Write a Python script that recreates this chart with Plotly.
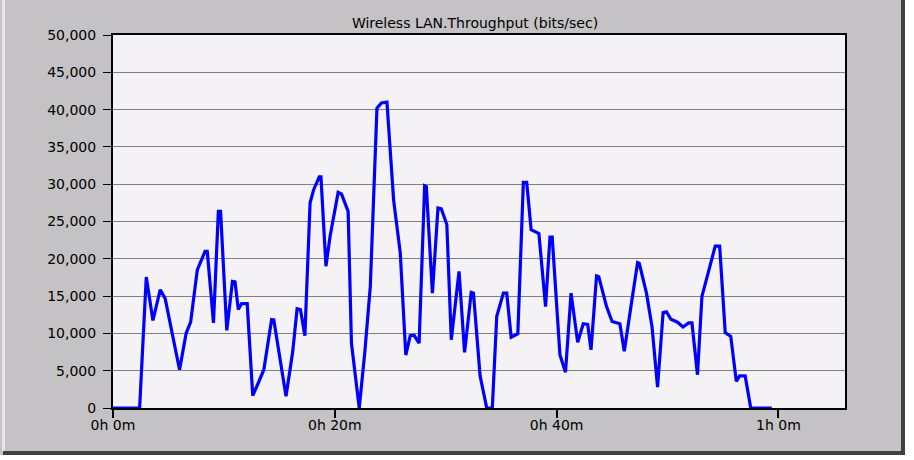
import plotly.graph_objects as go

# time in minutes since start
minutes = [0, 2.4, 3.0, 3.6, 4.26, 4.7, 6.0, 6.6, 7.0, 7.6, 8.3, 8.5, 9.06, 9.5, 9.7,
           10.26, 10.77, 11.0, 11.3, 11.6, 12.1, 12.6, 13.1, 13.6, 14.3, 14.5, 15.6,
           16.2, 16.6, 16.9, 17.3, 17.77, 18.1, 18.6, 18.75, 19.2, 19.57, 20.3, 20.6,
           21.2, 21.5, 22.2, 22.7, 23.2, 23.8, 24.2, 24.7, 25.3, 25.9, 26.4, 26.8,
           27.15, 27.6, 28.1, 28.25, 28.8, 29.3, 29.6, 30.1, 30.5, 31.2, 31.7, 32.3,
           32.5, 33.1, 33.7, 34.2, 34.6, 35.2, 35.5, 35.9, 36.5, 37.0, 37.3, 37.7,
           38.4, 39.0, 39.4, 39.6, 40.3, 40.8, 41.3, 41.9, 42.4, 42.8, 43.1, 43.6,
           43.8, 44.5, 45.0, 45.7, 46.1, 46.7, 47.3, 47.45, 48.1, 48.6, 49.1, 49.6,
           49.9, 50.3, 50.9, 51.4, 51.9, 52.2, 52.7, 53.1, 53.6, 54.3, 54.7, 55.2,
           55.7, 56.2, 56.5, 57.0, 57.5, 59.4]

throughput = [0, 0, 17560, 11740, 15860, 14700, 5130, 10050, 11500, 18500, 21000,
              21000, 11400, 26350, 26350, 10400, 16970, 16900, 13200, 14000, 14000,
              1650, 3350, 5130, 11840, 11800, 1560, 7500, 13300, 13200, 9700, 27500,
              29300, 31000, 31000, 19000, 23000, 28900, 28700, 26350, 8700, 0, 7400,
              16300, 40200, 40900, 41000, 27900, 20800, 7100, 9700, 9750, 8700, 29800,
              29700, 15400, 26800, 26700, 24600, 9150, 18300, 7450, 15500, 15400,
              4300, 0, 0, 12300, 15400, 15400, 9500, 9960, 30240, 30240, 23900, 23400,
              13600, 22900, 22900, 7100, 4800, 15400, 8800, 11300, 11200, 7800, 17700,
              17600, 13600, 11600, 11300, 7600, 13600, 19500, 19400, 15400, 10900,
              2800, 12800, 12900, 11900, 11500, 10850, 11400, 11400, 4460, 14960,
              17600, 21700, 21700, 10100, 9600, 3570, 4300, 4300, 0, 0]

x_tick_vals = [0, 20, 40, 60]
x_tick_text = ["0h 0m", "0h 20m", "0h 40m", "1h 0m"]

title_text = "Wireless LAN.Throughput (bits/sec)"

W, H = 914, 460
ML, MR, MT, MB = 113, 69, 35, 52
PW, PH = W - ML - MR, H - MT - MB

def px(x):
    return (x - ML) / PW

def py(y):
    return (H - MB - y) / PH

FONT = "DejaVu Sans"

fig = go.Figure()
fig.add_trace(go.Scatter(x=minutes, y=throughput, mode="lines",
                         line=dict(color="#0000ff", width=3.2), showlegend=False))

shapes = []
def rect(x0, y0, x1, y1, color):
    shapes.append(dict(type="rect", xref="paper", yref="paper",
                       x0=px(x0), x1=px(x1), y0=py(y1), y1=py(y0),
                       fillcolor=color, line=dict(width=0), layer="above"))

rect(905, 0, W, H, "#ffffff")
rect(0, 455, W, H, "#ffffff")
rect(901, 0, 905, 455, "#404040")
rect(3, 451, 905, 455, "#404040")
rect(2, 0, 5, 451, "#e6e6e6")

fig.update_layout(
    width=W, height=H,
    margin=dict(l=ML, r=MR, t=MT, b=MB, pad=0),
    paper_bgcolor="#c4c2c4",
    plot_bgcolor="#f5f2f5",
    font=dict(family=FONT, size=14, color="#000000"),
    title=dict(text=title_text, x=px(475), xref="paper", xanchor="center",
               y=1 - 23 / H, yref="container", yanchor="middle",
               font=dict(family=FONT, size=14, color="#000000")),
    shapes=shapes,
    xaxis=dict(range=[0, 66], tickvals=x_tick_vals, ticktext=x_tick_text,
               showgrid=False, zeroline=False, showline=True, linecolor="#000000",
               linewidth=2, mirror=True, ticks="outside", ticklen=8, tickwidth=2,
               tickcolor="#000000", ticklabelstandoff=-5,
               tickfont=dict(family=FONT, size=14)),
    yaxis=dict(range=[0, 50000], dtick=5000, tickformat=",d",
               showgrid=True, gridcolor="#808080", gridwidth=1, zeroline=False,
               showline=True, linecolor="#000000", linewidth=2, mirror=True,
               ticks="outside", ticklen=8, tickwidth=1, tickcolor="#000000",
               ticklabelstandoff=4,
               tickfont=dict(family=FONT, size=14)),
)

fig.write_html("out.html")
